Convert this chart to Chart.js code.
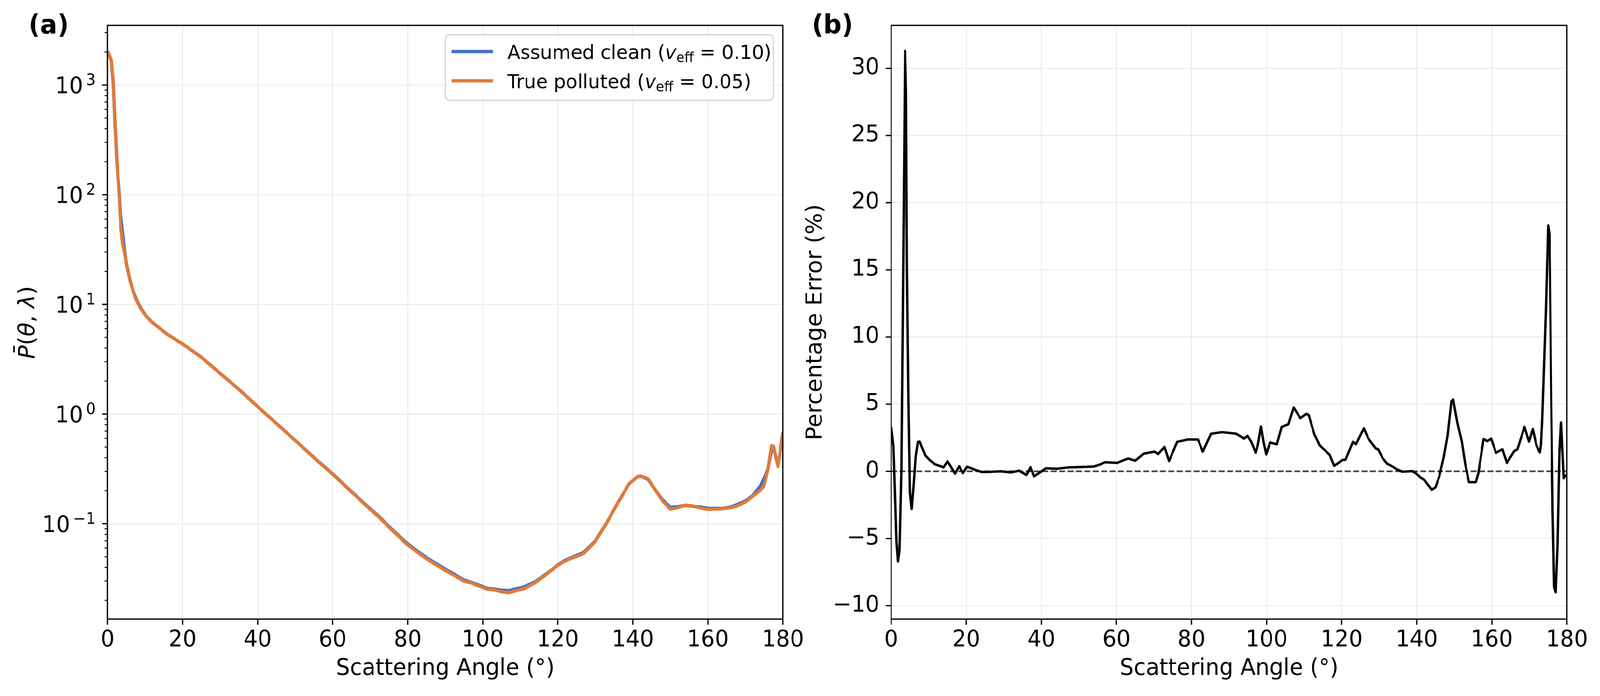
<!DOCTYPE html>
<html lang="en">
<head>
    <meta charset="UTF-8">
    <title>Phase function: assumed vs true</title>
    <script src="https://cdn.jsdelivr.net/npm/chart.js"></script>
    <style>
        html, body { margin: 0; padding: 0; overflow: hidden; background: #fff; }
        /* celý obrázek 4210x1783, přeškálovaný na okno */
        #sheet { position: absolute; left: 0; top: 0; width: 4210px; height: 1783px; transform-origin: 0 0; }
        .panel { position: absolute; top: 0; height: 1783px; }
    </style>
</head>
<body>
    <div id="sheet">
        <!-- levý panel je širší, aby se vešel popisek 180; plátna jsou průhledná -->
        <div class="panel" style="left:0; width:2200px"><canvas id="phaseChart"></canvas></div>
        <div class="panel" style="left:2105px; width:2105px"><canvas id="errorChart"></canvas></div>
    </div>

    <script>
        // (a) phase function
        const angleDeg = [0, 0.5, 1, 1.5, 2, 2.5, 3, 3.5, 4, 4.5, 5, 6, 7, 8, 9, 10, 12, 14, 16, 18,
            20, 25, 30, 35, 40, 45, 50, 55, 60, 65, 70, 72, 75, 80, 85, 90, 93, 95, 97, 99,
            101, 103, 105, 107, 109, 111, 114, 117, 120, 122, 124, 127, 130, 133, 136, 139, 141, 142, 144, 146,
            148, 150, 152, 154, 156, 158, 160, 162, 164, 166, 168, 170, 172, 174, 175, 176, 177, 177.5, 178, 178.7,
            179.3, 180];
        const cleanP = [2040, 1870, 1660, 1043, 421, 192, 121, 65, 46, 32.4, 23.6, 16.35, 12.78, 10.6, 9.1, 8.06, 6.83, 6.02, 5.32, 4.81,
            4.36, 3.3, 2.35, 1.68, 1.17, 0.822, 0.577, 0.402, 0.285, 0.1966, 0.137, 0.1198, 0.0944, 0.0655, 0.0491, 0.0386, 0.0337, 0.0307, 0.0292, 0.0276,
            0.0259, 0.0254, 0.0248, 0.0246, 0.0256, 0.0266, 0.0296, 0.035, 0.0421, 0.0465, 0.0498, 0.0551, 0.0698, 0.1015, 0.155, 0.231, 0.2648, 0.2722, 0.2545, 0.2032,
            0.164, 0.1414, 0.1431, 0.1468, 0.1441, 0.1423, 0.1382, 0.1382, 0.138, 0.1421, 0.1504, 0.1616, 0.181, 0.221, 0.262, 0.313, 0.469, 0.482, 0.419, 0.342,
            0.458, 0.678];
        const pollutedP = [2040, 1850, 1680, 1100, 450, 200, 110, 52, 36, 30, 24, 16.5, 12.5, 10.4, 9.0, 8.0, 6.8, 6.0, 5.3, 4.8,
            4.35, 3.3, 2.35, 1.68, 1.17, 0.82, 0.575, 0.40, 0.283, 0.195, 0.135, 0.118, 0.093, 0.064, 0.0478, 0.0375, 0.0329, 0.0299, 0.0288, 0.027,
            0.0254, 0.0249, 0.024, 0.0235, 0.0246, 0.0255, 0.029, 0.0346, 0.0418, 0.0458, 0.0488, 0.0538, 0.069, 0.101, 0.155, 0.231, 0.266, 0.274, 0.258, 0.204,
            0.16, 0.136, 0.14, 0.148, 0.145, 0.139, 0.135, 0.136, 0.137, 0.140, 0.146, 0.158, 0.178, 0.203, 0.222, 0.31, 0.515, 0.51, 0.413, 0.332,
            0.46, 0.68];

        // (b) percentage error
        const errAngleDeg = [0, 0.6, 1.0, 1.4, 1.8, 2.2, 2.7, 3.3, 3.7, 3.95, 4.2, 4.6, 5.0, 5.45, 6.0, 6.5, 7.1, 7.6, 9.1, 10.4,
            11.7, 13.0, 13.9, 15.0, 16.0, 17.0, 18.1, 19.1, 20.2, 21.2, 22.2, 24.2, 27.0, 29.1, 31.9, 34.1, 36.0, 37.1, 38.1, 39.5,
            41.2, 44.1, 47.1, 50.5, 54.0, 55.5, 57.0, 60.2, 63.1, 65.0, 67.2, 70.1, 71.1, 72.8, 74.0, 76.2, 79.0, 81.7, 83.0, 85.2,
            88.1, 91.8, 94.0, 94.9, 95.9, 97.1, 97.7, 98.5, 99.2, 99.9, 100.9, 102.7, 104.0, 105.8, 107.2, 109.0, 110.6, 111.2, 112.7, 114.2,
            116.8, 118.0, 120.3, 121.0, 123.0, 123.8, 125.9, 127.1, 129.1, 129.7, 130.9, 132.1, 132.9, 134.7, 136.2, 138.8, 139.7, 141.0, 142.0, 144.0,
            145.0, 146.0, 147.2, 148.2, 149.2, 149.7, 150.8, 152.0, 152.9, 153.9, 155.7, 156.4, 157.8, 158.8, 159.8, 161.1, 162.8, 164.0, 166.0, 166.8,
            168.7, 169.9, 170.9, 171.9, 172.8, 173.1, 173.4, 173.8, 174.4, 175.0, 175.4, 175.8, 176.2, 176.6, 177.0, 177.5, 178.0, 178.4, 179.1, 179.7,
            180];
        const errPercent = [3.3, 1.9, -1.5, -5.2, -6.7, -5.85, 0.1, 18.6, 31.3, 28.2, 15.3, 5.4, -1.6, -2.8, -0.9, 1.1, 2.2, 2.22, 1.18, 0.8,
            0.52, 0.4, 0.29, 0.75, 0.3, -0.16, 0.38, -0.13, 0.34, 0.24, 0.12, -0.05, -0.03, 0, -0.08, 0.05, -0.27, 0.31, -0.37, -0.1,
            0.23, 0.19, 0.29, 0.32, 0.36, 0.5, 0.68, 0.63, 0.96, 0.79, 1.31, 1.47, 1.28, 1.81, 0.77, 2.2, 2.37, 2.37, 1.47, 2.8,
            2.92, 2.81, 2.44, 2.64, 2.2, 1.38, 2.0, 3.33, 2.15, 1.26, 2.15, 2.02, 3.31, 3.5, 4.75, 3.96, 4.28, 4.19, 2.78, 1.91,
            1.23, 0.41, 0.85, 0.86, 2.2, 2.02, 3.2, 2.44, 1.70, 1.64, 0.99, 0.57, 0.46, 0.15, -0.03, 0.02, -0.13, -0.46, -0.64, -1.37,
            -1.18, -0.37, 1.08, 2.68, 5.2, 5.35, 3.65, 2.2, 0.55, -0.8, -0.8, -0.13, 2.41, 2.25, 2.44, 1.38, 1.64, 0.63, 1.52, 1.64,
            3.31, 2.22, 3.15, 1.91, 1.41, 2.0, 3.75, 7.0, 12, 18.3, 17.5, 5.5, -3.0, -8.6, -9.0, -5.5, 1.5, 3.63, -0.51, -0.32,
            -0.25];

        const angleTicks = [0, 20, 40, 60, 80, 100, 120, 140, 160, 180];
        const logTicks = [0.1, 1, 10, 100, 1000];
        const errTicks = [-10, -5, 0, 5, 10, 15, 20, 25, 30];

        // přizpůsobení na skutečnou velikost okna
        const sheet = document.getElementById('sheet');
        sheet.style.transform = 'scale(' + (window.innerWidth / 4210) + ',' + (window.innerHeight / 1783) + ')';

        const FONT = '"DejaVu Sans", sans-serif';
        Chart.defaults.color = '#000';
        Chart.defaults.font.family = FONT;

        function toPoints(xs, ys) {
            return xs.map((x, i) => ({ x: x, y: ys[i] }));
        }

        // text z několika kousků (kurzíva, index ...)
        function drawRuns(ctx, runs, x, y) {
            runs.forEach(r => {
                ctx.font = r.font;
                ctx.fillText(r.text, x, y + (r.dy || 0));
                x += ctx.measureText(r.text).width + (r.gap || 0);
            });
        }
        function runsWidth(ctx, runs) {
            let w = 0;
            runs.forEach(r => { ctx.font = r.font; w += ctx.measureText(r.text).width + (r.gap || 0); });
            return w;
        }

        // rámeček + tick čárky ven (jako matplotlib)
        const frameTicks = {
            id: 'frameTicks',
            afterDraw(chart, args, opts) {
                const { ctx, chartArea: a, scales } = chart;
                ctx.save();
                ctx.strokeStyle = '#000';
                ctx.lineCap = 'butt';
                ctx.lineWidth = 3.3;
                ctx.beginPath();
                scales.x.ticks.forEach(t => {
                    const px = scales.x.getPixelForValue(t.value);
                    ctx.moveTo(px, a.bottom); ctx.lineTo(px, a.bottom + 14.6);
                });
                scales.y.ticks.forEach(t => {
                    const py = scales.y.getPixelForValue(t.value);
                    ctx.moveTo(a.left, py); ctx.lineTo(a.left - 14.6, py);
                });
                ctx.stroke();
                if (opts.minorY) {
                    ctx.lineWidth = 2.5;
                    ctx.beginPath();
                    opts.minorY.forEach(v => {
                        if (v <= scales.y.min || v >= scales.y.max) return;
                        const py = scales.y.getPixelForValue(v);
                        ctx.moveTo(a.left, py); ctx.lineTo(a.left - 8.3, py);
                    });
                    ctx.stroke();
                }
                ctx.lineWidth = 3.3;
                ctx.strokeRect(a.left, a.top, a.right - a.left, a.bottom - a.top);

                // panel letter
                ctx.fillStyle = '#000';
                ctx.textBaseline = 'alphabetic';
                ctx.textAlign = 'left';
                ctx.font = 'bold 67px ' + FONT;
                ctx.fillText(opts.letter, opts.letterX, 86);
                ctx.restore();
            }
        };

        // log popisky 10^n, legenda a svislý popisek pro graf (a)
        const phaseDecor = {
            id: 'phaseDecor',
            afterDatasetsDraw(chart) {
                const { ctx, scales } = chart;
                const yScale = scales.y;
                ctx.save();
                ctx.fillStyle = '#000';
                ctx.textAlign = 'left';
                ctx.textBaseline = 'alphabetic';

                // tick labels
                yScale.ticks.forEach(t => {
                    const e = Math.round(Math.log10(t.value));
                    const py = yScale.getPixelForValue(t.value);
                    const runs = [
                        { text: '10', font: '58px ' + FONT, gap: 7 },
                        { text: String(e).replace('-', '\u2212'), font: '41px ' + FONT, dy: -21 }
                    ];
                    const w = runsWidth(ctx, runs);
                    drawRuns(ctx, runs, chart.chartArea.left - 31 - w, py + 21);
                });

                // legend box
                const bx = 1172, by = 89, bw = 863, bh = 168;
                ctx.beginPath();
                ctx.roundRect(bx, by, bw, bh, 11);
                ctx.fillStyle = 'rgba(255,255,255,0.8)';
                ctx.fill();
                ctx.strokeStyle = '#d6d6d6';
                ctx.lineWidth = 3.3;
                ctx.stroke();

                const entries = [
                    { ds: chart.data.datasets[0], y: 132, pre: 'Assumed clean (', val: ' = 0.10)' },
                    { ds: chart.data.datasets[1], y: 207, pre: 'True polluted (', val: ' = 0.05)' }
                ];
                entries.forEach(en => {
                    ctx.strokeStyle = en.ds.borderColor;
                    ctx.lineWidth = 8.3;
                    ctx.beginPath();
                    ctx.moveTo(1188, en.y); ctx.lineTo(1297, en.y);
                    ctx.stroke();
                    ctx.fillStyle = '#000';
                    drawRuns(ctx, [
                        { text: en.pre, font: '50px ' + FONT },
                        { text: 'v', font: 'italic 50px ' + FONT },
                        { text: 'eff', font: '35px ' + FONT, dy: 8 },
                        { text: en.val, font: '50px ' + FONT }
                    ], 1335, en.y + 19);
                });

                // y axis label  P̄(θ, λ)
                ctx.translate(90, 826);
                ctx.rotate(-Math.PI / 2);
                const lab = [
                    { text: 'P\u0304', font: 'italic 58px ' + FONT },
                    { text: '(', font: '58px ' + FONT },
                    { text: '\u03b8', font: 'italic 58px ' + FONT },
                    { text: ', ', font: '58px ' + FONT },
                    { text: '\u03bb', font: 'italic 58px ' + FONT },
                    { text: ')', font: '58px ' + FONT }
                ];
                ctx.fillStyle = '#000';
                drawRuns(ctx, lab, -runsWidth(ctx, lab) / 2, 0);
                ctx.restore();
            }
        };

        const minorLog = [];
        for (let e = -2; e <= 3; e++) {
            for (let m = 2; m <= 9; m++) minorLog.push(m * Math.pow(10, e));
        }

        const tickFont = { family: FONT, size: 58 };
        const titleFont = { family: FONT, size: 58 };
        const gridStyle = { color: '#e6e6e6', lineWidth: 2.1, drawTicks: false };

        function xAxis() {
            return {
                type: 'linear',
                min: 0,
                max: 180,
                grid: gridStyle,
                border: { display: false },
                afterBuildTicks: s => { s.ticks = angleTicks.map(v => ({ value: v })); },
                // pevná výška osy, popisky krajních ticků nesmí zmenšit plochu grafu
                afterFit: s => { s.height = 197; s.paddingLeft = 0; s.paddingRight = 0; },
                ticks: { font: tickFont, padding: 20, color: '#000', maxRotation: 0, autoSkip: false },
                title: { display: true, text: 'Scattering Angle (\u00b0)', font: titleFont, color: '#000', padding: { top: 0, bottom: 34 } }
            };
        }

        new Chart(document.getElementById('phaseChart'), {
            type: 'line',
            data: {
                datasets: [
                    {
                        label: 'Assumed clean',
                        data: toPoints(angleDeg, cleanP),
                        borderColor: '#4472C4',
                        order: 1
                    },
                    {
                        label: 'True polluted',
                        data: toPoints(angleDeg, pollutedP),
                        borderColor: '#E07B39',
                        order: 0
                    }
                ]
            },
            options: {
                responsive: true,
                maintainAspectRatio: false,
                devicePixelRatio: 1,
                animation: false,
                layout: { padding: { top: 65, right: 140, bottom: 0, left: 0 } },
                elements: {
                    line: { borderWidth: 8.3, tension: 0, borderJoinStyle: 'round', fill: false },
                    point: { radius: 0, hoverRadius: 0 }
                },
                datasets: { line: { clip: 0 } },
                plugins: {
                    legend: { display: false },
                    tooltip: { enabled: false },
                    frameTicks: { minorY: minorLog, letter: '(a)', letterX: 75 }
                },
                scales: {
                    x: xAxis(),
                    y: {
                        type: 'logarithmic',
                        min: 0.0135,
                        max: 3500,
                        grid: gridStyle,
                        border: { display: false },
                        afterBuildTicks: s => { s.ticks = logTicks.map(v => ({ value: v, major: true })); },
                        afterFit: s => { s.width = 283; s.paddingTop = 0; s.paddingBottom = 0; },
                        ticks: { display: false }
                    }
                }
            },
            plugins: [phaseDecor, frameTicks]
        });

        new Chart(document.getElementById('errorChart'), {
            type: 'line',
            data: {
                datasets: [
                    {
                        label: 'zero',
                        data: toPoints([0, 180], [0, 0]),
                        borderColor: 'rgba(0,0,0,0.72)',
                        borderWidth: 4.2,
                        borderDash: [15.4, 6.7],
                        order: 0
                    },
                    {
                        label: 'Percentage error',
                        data: toPoints(errAngleDeg, errPercent),
                        borderColor: '#000',
                        borderWidth: 6.25,
                        order: 1
                    }
                ]
            },
            options: {
                responsive: true,
                maintainAspectRatio: false,
                devicePixelRatio: 1,
                animation: false,
                layout: { padding: { top: 65, right: 87, bottom: 0, left: 0 } },
                elements: {
                    line: { tension: 0, borderJoinStyle: 'round', fill: false },
                    point: { radius: 0, hoverRadius: 0 }
                },
                datasets: { line: { clip: 0 } },
                plugins: {
                    legend: { display: false },
                    tooltip: { enabled: false },
                    frameTicks: { letter: '(b)', letterX: 31 }
                },
                scales: {
                    x: xAxis(),
                    y: {
                        type: 'linear',
                        min: -11.0,
                        max: 33.2,
                        grid: gridStyle,
                        border: { display: false },
                        afterBuildTicks: s => { s.ticks = errTicks.map(v => ({ value: v })); },
                        afterFit: s => { s.width = 240; s.paddingTop = 0; s.paddingBottom = 0; },
                        ticks: {
                            font: tickFont,
                            padding: 31,
                            color: '#000',
                            autoSkip: false,
                            callback: v => (v < 0 ? '\u2212' + Math.abs(v) : String(v))
                        },
                        title: { display: true, text: 'Percentage Error (%)', font: titleFont, color: '#000', padding: { top: 7, bottom: 0 } }
                    }
                }
            },
            plugins: [frameTicks]
        });
    </script>
</body>
</html>
